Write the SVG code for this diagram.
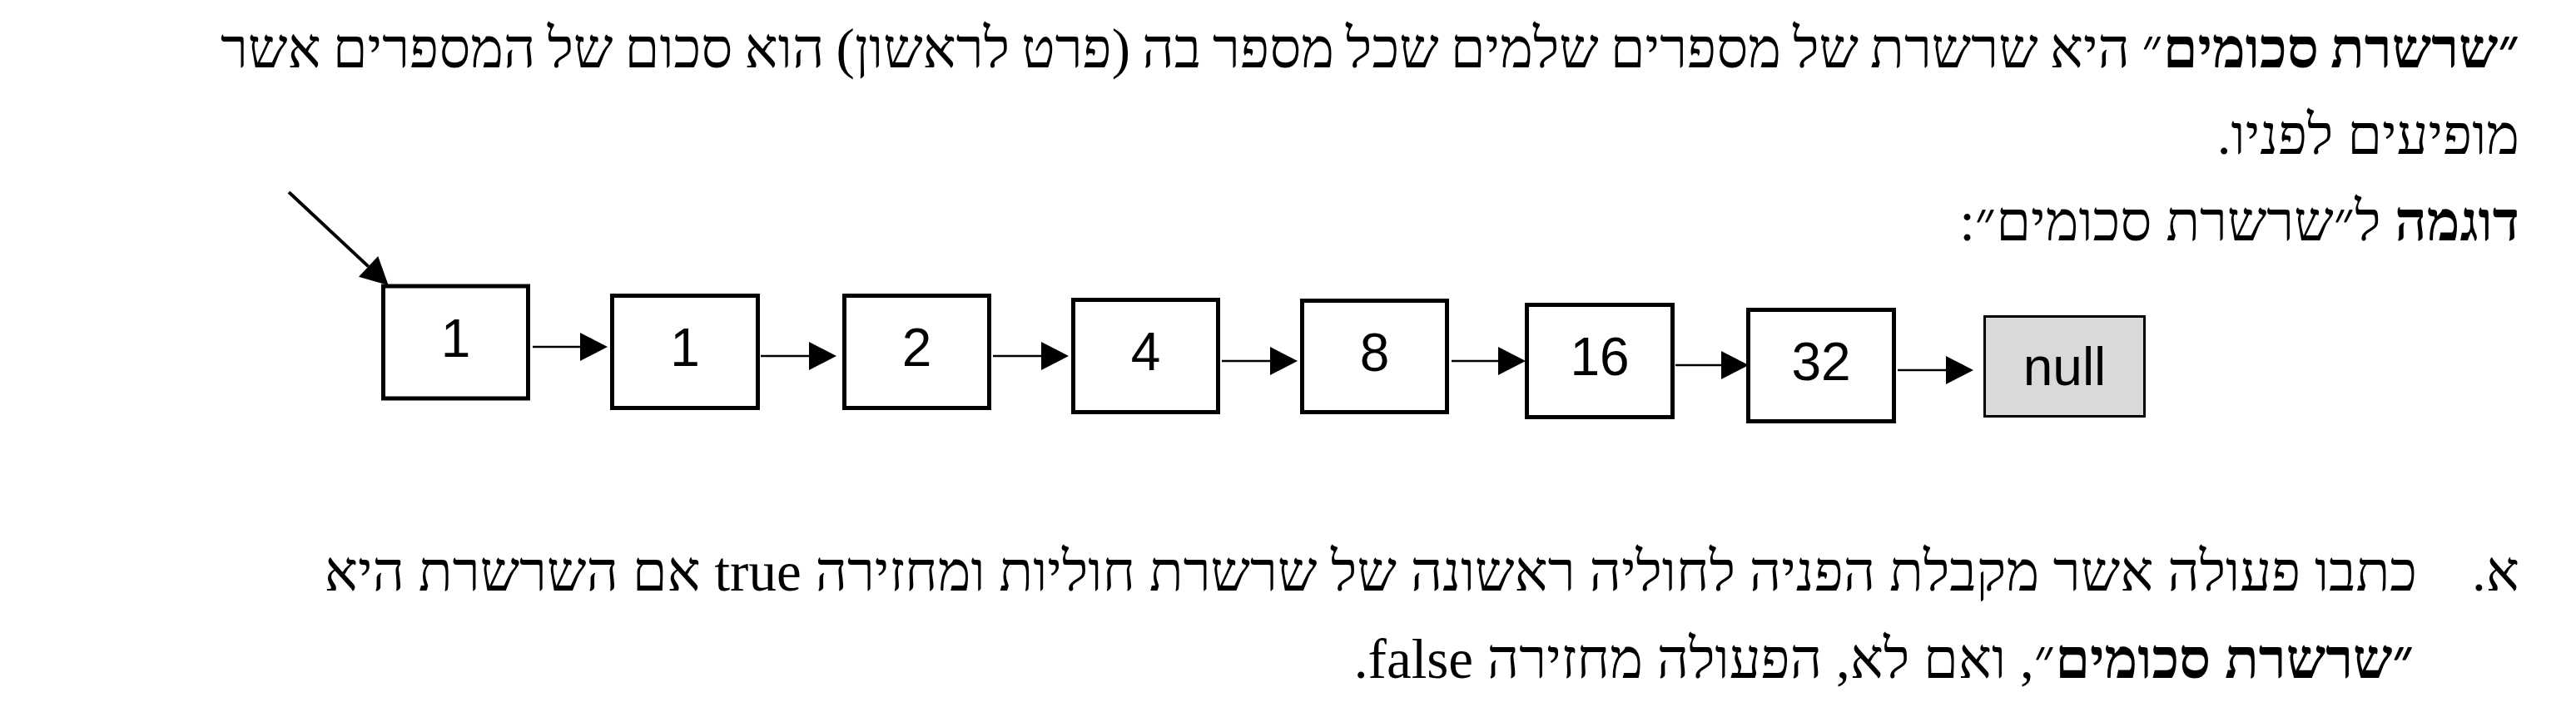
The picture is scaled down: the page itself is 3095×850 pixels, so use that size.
<svg xmlns="http://www.w3.org/2000/svg" width="3095" height="850" viewBox="0 0 3095 850">
<style>
.t{font-family:"Liberation Serif","Tinos","DejaVu Serif","Noto Sans",serif;font-size:67px;fill:#000;direction:rtl;unicode-bidi:embed;text-anchor:start}
.b{font-weight:bold}
.node rect{fill:#fff;stroke:#000;stroke-width:5}
.node text{font-family:"Liberation Sans",Arial,sans-serif;font-size:64px;fill:#000;text-anchor:middle}
.null rect{fill:#d9d9d9;stroke:#000;stroke-width:3}
.conn line{stroke:#000;stroke-width:2.5}
.conn line.ptr{stroke-width:4}
</style>
<defs>
<marker id="ah" markerUnits="userSpaceOnUse" markerWidth="34" markerHeight="34" refX="0" refY="17" orient="auto" overflow="visible">
<path d="M0,0 L33,17 L0,34 Z" fill="#000"/>
</marker>
</defs>
<rect width="3095" height="850" fill="#fff"/>
<g id="text">
<text class="t" x="3027" y="81" word-spacing="-2.6"><tspan class="b">״שרשרת סכומים</tspan>״ היא שרשרת של מספרים שלמים שכל מספר בה (פרט לראשון) הוא סכום של המספרים אשר</text>
<text class="t" x="3027" y="185">מופיעים לפניו.</text>
<text class="t" x="3027" y="289"><tspan class="b">דוגמה</tspan> ל״שרשרת סכומים״:</text>
<text class="t" x="3027" y="710">א.</text>
<text class="t" x="2904" y="710">כתבו פעולה אשר מקבלת הפניה לחוליה ראשונה של שרשרת חוליות ומחזירה true אם השרשרת היא</text>
<text class="t" x="2900" y="815"><tspan class="b">״שרשרת סכומים</tspan>״, ואם לא, הפעולה מחזירה false.</text>
</g>
<g id="connectors" class="conn">
<line class="ptr" x1="347" y1="231" x2="442.6" y2="320.4" marker-end="url(#ah)"/>
<line x1="640" y1="417" x2="697" y2="417" marker-end="url(#ah)"/>
<line x1="914" y1="428" x2="972" y2="428" marker-end="url(#ah)"/>
<line x1="1193" y1="428" x2="1251" y2="428" marker-end="url(#ah)"/>
<line x1="1468" y1="434" x2="1526" y2="434" marker-end="url(#ah)"/>
<line x1="1744" y1="434" x2="1800" y2="434" marker-end="url(#ah)"/>
<line x1="2013" y1="439" x2="2068" y2="439" marker-end="url(#ah)"/>
<line x1="2280" y1="445" x2="2338" y2="445" marker-end="url(#ah)"/>
</g>
<g id="n1" class="node"><rect x="460.5" y="344" width="174" height="135"/><text x="547.5" y="429">1</text></g>
<g id="n2" class="node"><rect x="735.5" y="355.5" width="175" height="135"/><text x="823" y="440">1</text></g>
<g id="n3" class="node"><rect x="1014.5" y="355.5" width="174" height="135"/><text x="1101.5" y="440">2</text></g>
<g id="n4" class="node"><rect x="1289.5" y="360.5" width="174" height="135"/><text x="1376.5" y="445">4</text></g>
<g id="n5" class="node"><rect x="1564.5" y="361.5" width="174" height="134"/><text x="1651.5" y="446">8</text></g>
<g id="n6" class="node"><rect x="1834.5" y="366.5" width="175" height="135"/><text x="1922" y="451">16</text></g>
<g id="n7" class="node"><rect x="2100.5" y="372.5" width="175" height="134"/><text x="2188" y="457">32</text></g>
<g id="nnull" class="node null"><rect x="2384.5" y="380.5" width="192" height="120"/><text x="2480.5" y="463">null</text></g>
</svg>
